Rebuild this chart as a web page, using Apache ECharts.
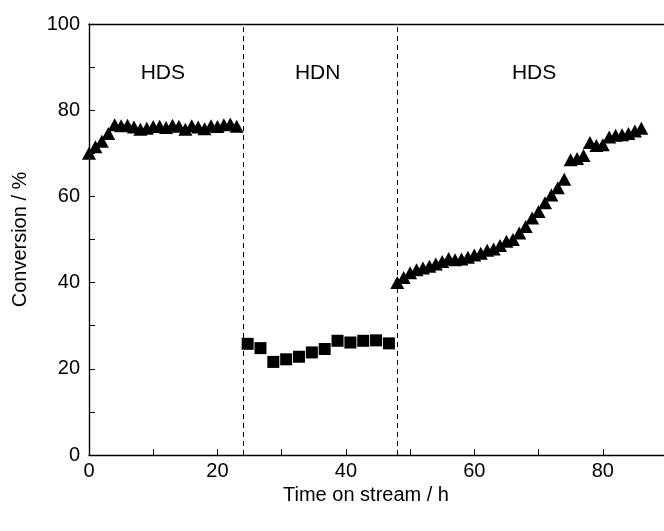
<!DOCTYPE html>
<html><head><meta charset="utf-8">
<script src="https://cdn.jsdelivr.net/npm/echarts@6/dist/echarts.min.js"></script>
<style>html,body{margin:0;padding:0;background:#fff}#c{width:664px;height:531px}</style>
</head><body><div id="c"></div>
<script>
const hds1Time = [0,1,2,3,4,5,6,7,8,9,10,11,12,13,14,15,16,17,18,19,20,21,22,23];
const hds1Conv = [70.0,71.5,72.8,74.6,76.6,76.4,76.5,76.1,75.6,75.8,76.2,76.3,76.0,76.5,76.3,75.6,76.4,76.1,75.7,76.4,76.2,76.6,76.8,76.3];
const hdnTime = [24.7,26.7,28.7,30.7,32.7,34.7,36.7,38.7,40.7,42.7,44.7,46.7];
const hdnConv = [25.8,24.8,21.6,22.2,22.8,23.8,24.6,26.5,26.1,26.5,26.6,25.9];
const hds2Time = [48,49,50,51,52,53,54,55,56,57,58,59,60,61,62,63,64,65,66,67,68,69,70,71,72,73,74,75,76,77,78,79,80,81,82,83,84,85,86];
const hds2Conv = [40.0,41.2,42.3,43.0,43.4,43.8,44.3,44.9,45.6,45.3,45.5,45.9,46.4,46.8,47.5,47.8,48.6,49.6,50.0,51.5,53.0,55.0,56.5,58.5,60.3,62.0,64.0,68.5,68.8,69.5,72.5,71.8,72.0,73.8,74.2,74.3,74.6,75.2,75.8];
const switchTimes = [24,48];
const regionLabels = ['HDS','HDN','HDS'];
const regionLabelX = [11.5,35.6,69.3];
const xTicks = [0,20,40,60,80];
const yTicks = [0,20,40,60,80,100];

const zip = (a,b)=>a.map((v,i)=>[v,b[i]]);
const font = 'Liberation Sans, Arial, sans-serif';
const chart = echarts.init(document.getElementById('c'), null, {renderer:'canvas'});
const axisLine = {show:true, lineStyle:{color:'#000', width:1.4}};
const mk = {color:'#000', opacity:1};
chart.setOption({
  animation:false,
  grid:{left:89, top:24, width:578, height:431, show:false, containLabel:false, outerBoundsMode:'none'},
  xAxis:[{
    type:'value', min:0, max:90, interval:10,
    axisLine:axisLine,
    axisTick:{show:true, inside:true, length:6, lineStyle:{color:'#000'}},
    axisLabel:{color:'#000', fontFamily:font, fontSize:20, margin:6,
      formatter:v=>xTicks.includes(v)?String(v):''},
    splitLine:{show:false},
    name:'Time on stream / h', nameLocation:'middle', nameGap:40,
    nameTextStyle:{color:'#000', fontFamily:font, fontSize:20, verticalAlign:'middle', padding:[0,24,0,0]}
  },{
    type:'value', position:'top', min:0, max:90,
    axisLine:axisLine, axisTick:{show:false}, axisLabel:{show:false}, splitLine:{show:false}
  }],
  yAxis:[{
    type:'value', min:0, max:100, interval:10,
    axisLine:axisLine,
    axisTick:{show:true, inside:true, length:6, lineStyle:{color:'#000'}},
    axisLabel:{color:'#000', fontFamily:font, fontSize:20, margin:9,
      formatter:v=>yTicks.includes(v)?String(v):''},
    splitLine:{show:false},
    name:'Conversion / %', nameLocation:'middle', nameGap:59, nameRotate:90,
    nameTextStyle:{color:'#000', fontFamily:font, fontSize:20}
  }],
  series:[
    {type:'scatter', data:zip(hds1Time,hds1Conv), symbol:'triangle', symbolSize:[14,13],
     itemStyle:mk, z:5,
     markLine:{silent:true, symbol:'none', label:{show:false},
       lineStyle:{color:'#000', type:[5,4], width:1, opacity:1},
       data:switchTimes.map(t=>({xAxis:t}))}},
    {type:'scatter', data:zip(hdnTime,hdnConv), symbol:'rect', symbolSize:12,
     itemStyle:mk, z:5},
    {type:'scatter', data:zip(hds2Time,hds2Conv), symbol:'triangle', symbolSize:[14,13],
     itemStyle:mk, z:5},
    {type:'scatter', data:regionLabelX.map((x,i)=>({value:[x,88.5], name:regionLabels[i]})),
     symbolSize:0, z:6, itemStyle:{opacity:1},
     label:{show:true, position:'inside', formatter:p=>p.name, color:'#000', opacity:1, fontFamily:font, fontSize:21}}
  ]
});
</script></body></html>
